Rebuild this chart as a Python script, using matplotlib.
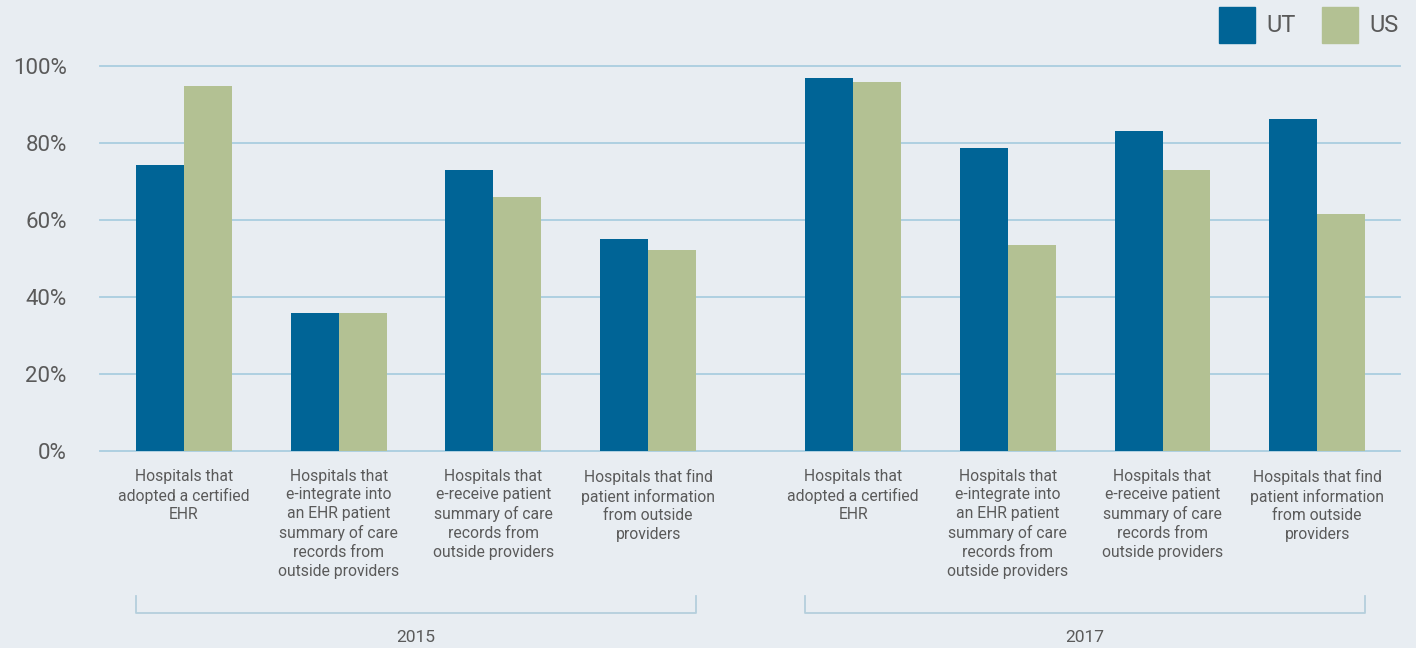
import matplotlib
matplotlib.use("Agg")
import matplotlib.pyplot as plt
import matplotlib.transforms as mtransforms

plt.rcParams['font.family'] = ['Roboto', 'DejaVu Sans']

years = ["2015", "2017"]
categories = [
    "Hospitals that\nadopted a certified\nEHR",
    "Hospitals that\ne-integrate into\nan EHR patient\nsummary of care\nrecords from\noutside providers",
    "Hospitals that\ne-receive patient\nsummary of care\nrecords from\noutside providers",
    "Hospitals that find\npatient information\nfrom outside\nproviders",
]
ut_2015 = [74.3, 35.8, 73.0, 55.1]
us_2015 = [94.8, 35.8, 66.0, 52.2]
ut_2017 = [96.9, 78.7, 83.1, 86.2]
us_2017 = [95.8, 53.5, 73.0, 61.6]
series_names = ["UT", "US"]
yticks = [0, 20, 40, 60, 80, 100]

BG = "#e8edf2"
C_UT = "#006496"
C_US = "#b3c193"
GRID = "#a9cde0"
TXT = "#5a5a5a"
BRK = "#b5cfdc"

fig = plt.figure(figsize=(14.16, 6.48), dpi=100, facecolor=BG)
ax = fig.add_axes([100/1416, (648-451)/648, 1300/1416, 385/648])
ax.set_facecolor(BG)

w = 0.31
gap = 1.325
pos15 = [i for i in range(4)]
pos17 = [3 + gap + i for i in range(4)]

ax.bar([p - w/2 for p in pos15], ut_2015, width=w, color=C_UT, zorder=3, align='center')
ax.bar([p + w/2 for p in pos15], us_2015, width=w, color=C_US, zorder=3, align='center')
ax.bar([p - w/2 for p in pos17], ut_2017, width=w, color=C_UT, zorder=3, align='center')
ax.bar([p + w/2 for p in pos17], us_2017, width=w, color=C_US, zorder=3, align='center')

ax.set_xlim(-0.543, 7.86)
ax.set_ylim(0, 100)
for y in yticks:
    ax.axhline(y, color=GRID, lw=1.3, zorder=1, clip_on=False)
ax.set_yticks(yticks)
ax.set_yticklabels([f"{v}%" for v in yticks], fontsize=16, color=TXT)
ax.tick_params(axis='y', length=0, pad=24)
ax.set_xticks([])
for s in ax.spines.values():
    s.set_visible(False)

trans = mtransforms.blended_transform_factory(ax.transData, ax.transAxes)
for p, lab in zip(pos15 + pos17, categories + categories):
    ax.text(p, -0.046, lab, transform=trans, ha='center', va='top',
            fontsize=11.3, color=TXT, linespacing=1.31)

yb_top, yb_bot = -0.377, -0.421
for pos, yr in ((pos15, years[0]), (pos17, years[1])):
    x0 = pos[0] - w
    x1 = pos[-1] + w
    ax.plot([x0, x0, x1, x1], [yb_top, yb_bot, yb_bot, yb_top], transform=trans,
            color=BRK, lw=1.3, clip_on=False)
    ax.text((x0 + x1) / 2, -0.484, yr, transform=trans, ha='center', va='center',
            fontsize=12.5, color=TXT)

# legend
leg_items = [(1219, C_UT, series_names[0]), (1322, C_US, series_names[1])]
for x, c, name in leg_items:
    fig.patches.append(plt.Rectangle((x/1416, (648-43)/648), 36/1416, 36/648,
                                     transform=fig.transFigure, color=c, figure=fig))
    fig.text((x + 47)/1416, (648-25)/648, name, ha='left', va='center',
             fontsize=17, color=TXT)

fig.savefig("out.png", dpi=100, facecolor=BG)
